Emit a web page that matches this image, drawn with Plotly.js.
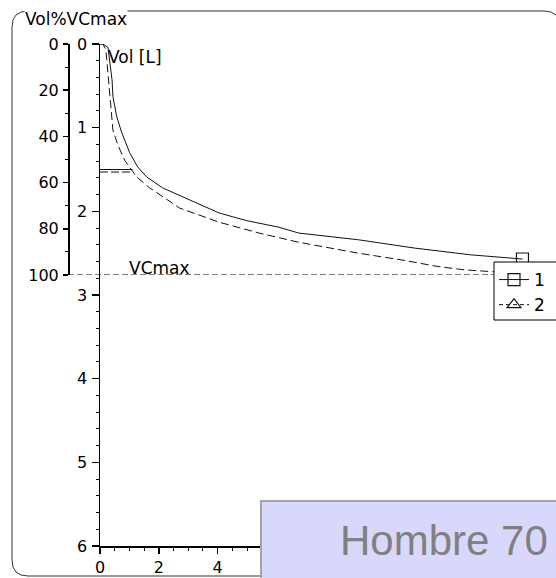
<!DOCTYPE html>
<html>
<head>
<meta charset="utf-8">
<script src="https://cdn.plot.ly/plotly-3.0.1.min.js"></script>
<style>html,body{margin:0;padding:0;background:#fff;}#chart{width:556px;height:578px;}</style>
</head>
<body>
<div id="chart"></div>
<script>
// ---- data (time in s, volume in L) ----
const t1 = [0, 0.10, 0.27, 0.34, 0.41, 0.44, 0.57, 0.74, 1.01, 1.28, 1.59, 2.13, 2.70, 3.28, 4.05, 4.97, 5.41, 6.08, 6.76, 8.78, 10.71, 12.60, 14.36];
const v1 = [0, 0.00, 0.04, 0.23, 0.43, 0.63, 0.87, 1.06, 1.30, 1.47, 1.59, 1.72, 1.81, 1.90, 2.02, 2.11, 2.14, 2.19, 2.26, 2.34, 2.44, 2.52, 2.57];
const t2 = [0, 0.10, 0.20, 0.24, 0.30, 0.37, 0.44, 0.61, 0.84, 1.25, 1.69, 2.20, 2.70, 4.05, 5.41, 6.76, 8.78, 10.24, 11.49, 12.40, 13.28, 14.36];
const v2 = [0, 0.00, 0.07, 0.23, 0.49, 0.79, 1.03, 1.21, 1.39, 1.59, 1.72, 1.84, 1.96, 2.13, 2.26, 2.37, 2.50, 2.58, 2.66, 2.70, 2.72, 2.76];
const fev1Time = [0, 1.1];
const fev1Vol1 = 1.50;
const fev1Vol2 = 1.53;
const vcmaxPct = 100;
const seriesNames = ['1', '2'];
const volTicks = [0, 1, 2, 3, 4, 5, 6];
const pctTicks = [0, 20, 40, 60, 80, 100];
const timeTicks = [0, 2, 4];

const W = 556, H = 578;
const px = x => x / W;
const py = y => 1 - y / H;
const FONT = 'DejaVu Sans, Verdana, sans-serif';
const INK = '#111';

const last = arr => [arr[arr.length - 1]];

const traces = [
  {x: t1, y: v1, mode: 'lines', showlegend: false, line: {color: INK, width: 1}, hoverinfo: 'skip'},
  {x: t2, y: v2, mode: 'lines', showlegend: false, line: {color: INK, width: 1, dash: '8px,4px'}, hoverinfo: 'skip'},
  {x: last(t2), y: last(v2), mode: 'markers', showlegend: false, marker: {symbol: 'triangle-up-open', size: 12, color: INK, line: {width: 1.2}}, hoverinfo: 'skip'},
  {x: fev1Time, y: fev1Time.map(() => fev1Vol1), mode: 'lines', showlegend: false, line: {color: INK, width: 1}, hoverinfo: 'skip'},
  {x: fev1Time, y: fev1Time.map(() => fev1Vol2), mode: 'lines', showlegend: false, line: {color: INK, width: 1, dash: '8px,3px'}, hoverinfo: 'skip'},
  // legend entries
  {x: [null], y: [null], name: seriesNames[0], mode: 'lines+markers', line: {color: INK, width: 1},
   marker: {symbol: 'square-open', size: 12, color: INK, line: {width: 1.2}}},
  {x: [null], y: [null], name: seriesNames[1], mode: 'lines+markers', line: {color: INK, width: 1, dash: '4px,3px'},
   marker: {symbol: 'triangle-up-open', size: 12, color: INK, line: {width: 1.2}}},
  {x: [0], y: [0], yaxis: 'y2', mode: 'markers', marker: {opacity: 0}, showlegend: false, hoverinfo: 'skip'}
];

// outer rounded frame in paper coords
const fx0 = px(12), fx1 = px(560), fy0 = py(576), fy1 = py(11);
const rx = px(16), ry = 16 / H;
const framePath = `M ${fx0+rx},${fy1} L ${fx1-rx},${fy1} Q ${fx1},${fy1} ${fx1},${fy1-ry} L ${fx1},${fy0+ry} Q ${fx1},${fy0} ${fx1-rx},${fy0} L ${fx0+rx},${fy0} Q ${fx0},${fy0} ${fx0},${fy0+ry} L ${fx0},${fy1-ry} Q ${fx0},${fy1} ${fx0+rx},${fy1} Z`;

const axisCommon = {
  showline: true, linecolor: '#000', linewidth: 1.5, ticks: 'outside', tickcolor: '#000', tickwidth: 1.5,
  showgrid: false, zeroline: false, tickfont: {family: FONT, size: 16, color: '#000'}, fixedrange: true
};

const layout = {
  width: W, height: H, margin: {l: 0, r: 0, t: 0, b: 0},
  paper_bgcolor: '#fff', plot_bgcolor: 'rgba(0,0,0,0)',
  showlegend: true,
  legend: {x: px(494), y: py(262), xanchor: 'left', yanchor: 'top', bgcolor: 'rgba(0,0,0,0)', borderwidth: 0,
           font: {family: FONT, size: 17, color: '#000'}, itemwidth: 30, tracegroupgap: 0},
  xaxis: Object.assign({}, axisCommon, {domain: [px(100), 1], range: [0, 15.5], tickmode: 'array', tickvals: timeTicks,
    ticklen: 6, ticklabelstandoff: 0, minor: {dtick: 0.5, tick0: 0, ticklen: 3, ticks: 'outside', tickcolor: '#000', tickwidth: 1}, anchor: 'y'}),
  yaxis: Object.assign({}, axisCommon, {domain: [py(546), py(44)], range: [6, 0], tickmode: 'array', tickvals: volTicks,
    ticklen: 7, ticklabelstandoff: 1, minor: {dtick: 0.2, tick0: 0, ticklen: 3, ticks: 'outside', tickcolor: '#000', tickwidth: 1}, anchor: 'x'}),
  yaxis2: Object.assign({}, axisCommon, {domain: [py(275), py(44)], range: [100, 0], tickmode: 'array', tickvals: pctTicks,
    ticklen: 5, ticklabelstandoff: 1, minor: {dtick: 10, tick0: 0, ticklen: 3, ticks: 'outside', tickcolor: '#000', tickwidth: 1},
    anchor: 'free', position: px(68)}),
  shapes: [
    {type: 'path', xref: 'paper', yref: 'paper', path: framePath, line: {color: '#333', width: 1}, layer: 'below'},
    {type: 'line', xref: 'paper', yref: 'y2', x0: px(68), x1: 1, y0: vcmaxPct, y1: vcmaxPct, line: {color: '#000', width: 1.2, dash: '6px,3px'}},
    // legend frame (extends past the right edge as in the reference)
    {type: 'rect', xref: 'paper', yref: 'paper', x0: px(494), x1: 1.05, y0: py(320), y1: py(262), fillcolor: '#fff', line: {color: '#000', width: 1}, layer: 'above'},
    {type: 'rect', xref: 'paper', yref: 'paper', x0: px(261), x1: 1.05, y0: -0.05, y1: py(501), fillcolor: '#d8d8fc', line: {color: '#a6a6a6', width: 2}, layer: 'above'}
  ],
  annotations: [
    {xref: 'paper', yref: 'paper', x: px(24), y: py(19), xanchor: 'left', yanchor: 'middle', text: 'Vol%VCmax', showarrow: false,
     font: {family: FONT, size: 17, color: '#000'}, bgcolor: '#fff', borderpad: 0},
    {xref: 'paper', yref: 'paper', x: px(106), y: py(57), xanchor: 'left', yanchor: 'middle', text: 'Vol [L]', showarrow: false,
     font: {family: FONT, size: 17, color: '#000'}},
    {xref: 'paper', yref: 'paper', x: px(127), y: py(268), xanchor: 'left', yanchor: 'middle', text: 'VCmax', showarrow: false,
     font: {family: FONT, size: 17, color: '#000'}},
    {xref: 'paper', yref: 'paper', x: px(338), y: py(540), xanchor: 'left', yanchor: 'middle', text: 'Hombre 70 años', showarrow: false,
     font: {family: 'Liberation Sans, Arial, sans-serif', size: 42, color: '#808080'}}
  ]
};

Plotly.newPlot('chart', traces, layout, {staticPlot: true, displayModeBar: false}).then(gd => {
  // end-of-test marker for curve 1 sits above the legend frame, as in the reference
  Plotly.addTraces(gd, [{x: last(t1), y: last(v1), mode: 'markers', showlegend: false,
    marker: {symbol: 'square-open', size: 12, color: INK, line: {width: 1.2}}, hoverinfo: 'skip', cliponaxis: false}]);
});
</script>
</body>
</html>
